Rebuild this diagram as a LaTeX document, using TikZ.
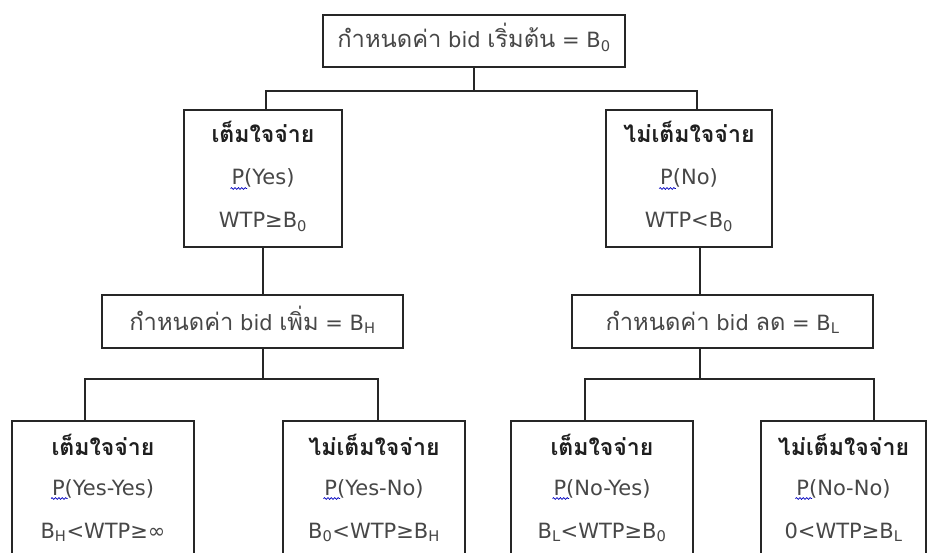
\documentclass[tikz,border=0pt]{standalone}
\usepackage{fontspec}
\setmainfont{DejaVu Sans}
\newfontfamily\thai[Script=Thai,Scale=1.13]{Loma}
\newfontfamily\thaih[Script=Thai,Scale=1.1]{Loma}
\usetikzlibrary{decorations.pathmorphing}
\newcommand\spellP{\tikz[baseline=(spp.base),x=1pt,y=1pt]{\node[inner sep=0pt,outer sep=0pt] (spp) {P};\draw[overlay,blue!75!black,line width=0.7pt,decorate,decoration={snake,amplitude=0.9pt,segment length=3.4pt}] ([yshift=-3.5pt,xshift=-1pt]spp.base west) -- ([yshift=-3.5pt,xshift=3pt]spp.base east);}}
\tikzset{
  box/.style={draw=black!85,line width=1.2pt,inner sep=0pt},
  lbl/.style={text=black!72,font=\fontsize{21}{24}\selectfont,inner sep=0pt,anchor=base},
  hd/.style={text=black!88,font=\fontsize{21}{24}\selectfont\thaih\bfseries,inner sep=0pt,anchor=base},
  conn/.style={draw=black!85,line width=1.2pt},
}
\begin{document}
\begin{tikzpicture}[x=1pt,y=-1pt]
\useasboundingbox[fill=white] (0,0) rectangle (931,553);
% boxes
\node[box,minimum width=302pt,minimum height=52pt] (top) at (474,41) {};
\node[box,minimum width=158pt,minimum height=137pt] (yes) at (263,178.5) {};
\node[box,minimum width=166pt,minimum height=137pt] (no) at (689,178.5) {};
\node[box,minimum width=301pt,minimum height=53pt] (bh) at (252.5,321.5) {};
\node[box,minimum width=301pt,minimum height=53pt] (bl) at (722.5,321.5) {};
\node[box,minimum width=182pt,minimum height=160pt] (ya) at (103,501) {};
\node[box,minimum width=182pt,minimum height=160pt] (yb) at (374,501) {};
\node[box,minimum width=182pt,minimum height=160pt] (na) at (602,501) {};
\node[box,minimum width=165pt,minimum height=160pt] (nb) at (843.5,501) {};
% texts
\node[lbl] (t0) at (474,48) {{\thai กำหนดค่า} bid {\thai เริ่มต้น} = B\textsubscript{0}};
\node[hd] (t1a) at (263,143) {เต็มใจจ่าย};
\node[lbl] (t1b) at (263,185) {\spellP(Yes)};
\node[lbl] (t1c) at (263,228) {WTP≥B\textsubscript{0}};
\node[hd] (t2a) at (689,143) {ไม่เต็มใจจ่าย};
\node[lbl] (t2b) at (689,185) {\spellP(No)};
\node[lbl] (t2c) at (689,228) {WTP<B\textsubscript{0}};
\node[lbl] (t3) at (252.5,330) {{\thai กำหนดค่า} bid {\thai เพิ่ม} = B\textsubscript{H}};
\node[lbl] (t4) at (722.5,330) {{\thai กำหนดค่า} bid {\thai ลด} = B\textsubscript{L}};
\node[hd] (t5a) at (103,455) {เต็มใจจ่าย};
\node[lbl] (t5b) at (103,495) {\spellP(Yes-Yes)};
\node[lbl] (t5c) at (103,538) {B\textsubscript{H}<WTP≥∞};
\node[hd] (t6a) at (374,455) {ไม่เต็มใจจ่าย};
\node[lbl] (t6b) at (374,495) {\spellP(Yes-No)};
\node[lbl] (t6c) at (374,538) {B\textsubscript{0}<WTP≥B\textsubscript{H}};
\node[hd] (t7a) at (602,455) {เต็มใจจ่าย};
\node[lbl] (t7b) at (602,495) {\spellP(No-Yes)};
\node[lbl] (t7c) at (602,538) {B\textsubscript{L}<WTP≥B\textsubscript{0}};
\node[hd] (t8a) at (843.5,455) {ไม่เต็มใจจ่าย};
\node[lbl] (t8b) at (843.5,495) {\spellP(No-No)};
\node[lbl] (t8c) at (843.5,538) {0<WTP≥B\textsubscript{L}};
% junction coordinates
\coordinate (hL) at (266,91);
\coordinate (hR) at (697,91);
\coordinate (sL) at (263,300);
\coordinate (sR) at (700,300);
\coordinate (cA) at (85,379);
\coordinate (cB) at (378,379);
\coordinate (cC) at (585,379);
\coordinate (cD) at (874,379);
% connectors
\draw[conn] (top.south) -- (top.south |- hL);
\draw[conn] (yes.north -| hL) -- (hL) -- (hR) -- (no.north -| hR);
\draw[conn] (yes.south -| sL) -- (bh.north -| sL);
\draw[conn] (bh.south -| sL) -- (sL |- cA);
\draw[conn] (ya.north -| cA) -- (cA) -- (cB) -- (yb.north -| cB);
\draw[conn] (no.south -| sR) -- (bl.north -| sR);
\draw[conn] (bl.south -| sR) -- (sR |- cC);
\draw[conn] (na.north -| cC) -- (cC) -- (cD) -- (nb.north -| cD);
\end{tikzpicture}
\end{document}
